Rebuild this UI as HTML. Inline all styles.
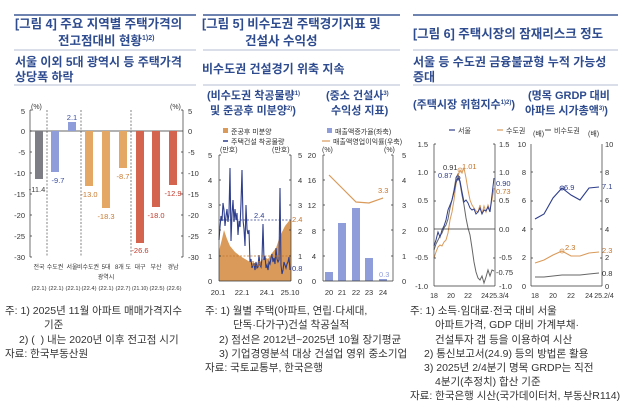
<!DOCTYPE html>
<html><head><meta charset="utf-8"><style>
html,body{margin:0;padding:0;background:#fff}
svg{display:block}
text{font-family:"Liberation Sans","Noto Sans CJK KR",sans-serif}
.t{fill:#2d4b8e;font-size:12.5px;font-weight:bold}
.s{fill:#2d4b8e;font-size:12px;font-weight:bold}
.n{fill:#333;font-size:10.5px}
.k{fill:#333;font-size:7px}
.ct{fill:#2d4b8e;font-size:11px;font-weight:bold}
</style></head><body>
<svg width="640" height="417" viewBox="0 0 640 417" xmlns="http://www.w3.org/2000/svg">
<g stroke="#3e5a95">
<line x1="14" y1="15" x2="196" y2="15" stroke-width="1.5"/>
<line x1="203" y1="15" x2="400" y2="15" stroke-width="1.5"/>
<line x1="413" y1="15" x2="618" y2="15" stroke-width="1.5"/>
</g>
<g stroke="#9aa6c0" stroke-width="0.8">
<line x1="14" y1="50" x2="196" y2="50"/><line x1="14" y1="85" x2="196" y2="85"/>
<line x1="203" y1="50" x2="400" y2="50"/><line x1="203" y1="85" x2="400" y2="85"/>
<line x1="413" y1="50" x2="618" y2="50"/><line x1="413" y1="85" x2="618" y2="85"/>
</g>
<text class="t" x="15" y="28">[그림 4] 주요 지역별 주택가격의</text>
<text class="t" x="58" y="45">전고점대비 현황<tspan font-size="7" dy="-5">1)2)</tspan></text>
<text class="s" x="15" y="66">서울 이외 5대 광역시 등 주택가격</text>
<text class="s" x="15" y="81">상당폭 하락</text>
<text class="t" x="202" y="28">[그림 5] 비수도권 주택경기지표 및</text>
<text class="t" x="245" y="45">건설사 수익성</text>
<text class="s" x="202" y="73">비수도권 건설경기 위축 지속</text>
<text class="t" x="413" y="38">[그림 6] 주택시장의 잠재리스크 정도</text>
<text class="s" x="413" y="66">서울 등 수도권 금융불균형 누적 가능성</text>
<text class="s" x="413" y="81">증대</text>

<!-- Chart 1 -->
<g font-size="7.5" fill="#333" text-anchor="end">
<text x="25" y="114">5</text><text x="25" y="134">0</text><text x="25" y="155">-5</text><text x="25" y="176">-10</text><text x="25" y="197">-15</text><text x="25" y="218">-20</text><text x="25" y="239">-25</text><text x="25" y="260">-30</text>
</g>
<g font-size="7.5" fill="#333">
<text x="188" y="114">5</text><text x="188" y="134">0</text><text x="188" y="155">-5</text><text x="188" y="176">-10</text><text x="188" y="197">-15</text><text x="188" y="218">-20</text><text x="188" y="239">-25</text><text x="188" y="260">-30</text>
</g>
<text class="k" x="31" y="109">(%)</text><text class="k" x="170" y="109">(%)</text>
<g stroke="#333" stroke-width="0.7">
<line x1="30" y1="110" x2="30" y2="257"/><line x1="183" y1="110" x2="183" y2="257"/>
<line x1="30" y1="131" x2="183" y2="131"/>
<path d="M30 110h2M30 131h2M30 152h2M30 173h2M30 194h2M30 215h2M30 236h2M30 257h2M183 110h-2M183 152h-2M183 173h-2M183 194h-2M183 215h-2M183 236h-2M183 257h-2"/>
</g>
<g stroke="#333" stroke-width="0.6" stroke-dasharray="2,1.5">
<line x1="47" y1="110" x2="47" y2="257"/><line x1="81" y1="110" x2="81" y2="257"/><line x1="131" y1="110" x2="131" y2="257"/>
</g>
<rect x="35" y="131" width="8" height="48" fill="#7d7d86"/>
<rect x="51" y="131" width="8" height="41" fill="#8f9edb"/>
<rect x="68" y="122" width="8" height="9" fill="#8f9edb"/>
<rect x="85" y="131" width="8" height="55" fill="#e4a764"/>
<rect x="102" y="131" width="8" height="77" fill="#e4a764"/>
<rect x="119" y="131" width="8" height="37" fill="#e4a764"/>
<rect x="136" y="131" width="8" height="112" fill="#d5644f"/>
<rect x="152" y="131" width="8" height="76" fill="#d5644f"/>
<rect x="169" y="131" width="8" height="54" fill="#d5644f"/>
<g font-size="7.5" text-anchor="middle">
<text x="37" y="192" fill="#444">-11.4</text><text x="58" y="183" fill="#3a4ea0">-9.7</text><text x="72" y="120" fill="#3a4ea0">2.1</text>
<text x="89" y="197" fill="#c87a30">-13.0</text><text x="106" y="219" fill="#c87a30">-18.3</text><text x="123" y="179" fill="#c87a30">-8.7</text>
<text x="140" y="253" fill="#c0392b">-26.6</text><text x="156" y="218" fill="#c0392b">-18.0</text><text x="173" y="196" fill="#c0392b">-12.9</text>
</g>
<g font-size="6" fill="#333" text-anchor="middle">
<text x="39" y="269">전국</text><text x="55" y="269">수도권</text><text x="72" y="269">서울</text><text x="88" y="269">비수도권</text><text x="106" y="269">5대</text><text x="123" y="269">8개 도</text><text x="140" y="269">대구</text><text x="156" y="269">부산</text><text x="173" y="269">경남</text>
<text x="106" y="279">광역시</text>
</g>
<g font-size="5.6" fill="#333" text-anchor="middle">
<text x="39" y="290" textLength="15" lengthAdjust="spacingAndGlyphs">(22.1)</text><text x="56" y="290" textLength="15" lengthAdjust="spacingAndGlyphs">(22.1)</text><text x="73" y="290" textLength="15" lengthAdjust="spacingAndGlyphs">(22.1)</text><text x="89" y="290" textLength="15" lengthAdjust="spacingAndGlyphs">(22.4)</text><text x="106" y="290" textLength="15" lengthAdjust="spacingAndGlyphs">(22.1)</text><text x="123" y="290" textLength="15" lengthAdjust="spacingAndGlyphs">(22.7)</text><text x="140" y="290" textLength="16" lengthAdjust="spacingAndGlyphs">(21.10)</text><text x="157" y="290" textLength="15" lengthAdjust="spacingAndGlyphs">(22.5)</text><text x="174" y="290" textLength="15" lengthAdjust="spacingAndGlyphs">(22.6)</text>
</g>

<!-- Chart 2a -->
<text class="ct" x="207" y="99">(비수도권 착공물량<tspan font-size="6" dy="-4">1)</tspan></text>
<text class="ct" x="210" y="114">및 준공후 미분양<tspan font-size="6" dy="-4">2)</tspan><tspan dy="4">)</tspan></text>
<text class="ct" x="326" y="99">(중소 건설사<tspan font-size="6" dy="-4">3)</tspan></text>
<text class="ct" x="331" y="114">수익성 지표)</text>
<rect x="223" y="128" width="5" height="5" fill="#d99a5a"/><text class="k" x="231" y="134">준공후 미분양</text>
<line x1="223" y1="141" x2="228" y2="141" stroke="#2e3e8c" stroke-width="1.5"/><text class="k" x="231" y="144">주택건설 착공물량</text>
<text class="k" x="220" y="152">(만호)</text><text class="k" x="272" y="152">(만호)</text>
<g font-size="7.5" fill="#333">
<text x="208" y="158">5</text><text x="208" y="183">4</text><text x="208" y="208">3</text><text x="208" y="234">2</text><text x="208" y="259">1</text><text x="208" y="284">0</text>
<text x="298" y="158">5</text><text x="298" y="183">4</text><text x="298" y="208">3</text><text x="298" y="234">2</text><text x="298" y="259">1</text><text x="298" y="284">0</text>
</g>
<path d="M219 251 L222 239 L224 230 L227 239 L230 246 L235 252 L240 256 L245 259 L250 262 L255 263 L260 264 L264 257 L268 259 L272 253 L276 248 L280 236 L285 226 L289 221 L291 220 L291 281 L219 281Z" fill="#d99a5a"/>
<polyline fill="none" stroke="#2e3e8c" stroke-width="1.1" points="219,240 220,227 221,216 222,221 223,203 224,210 225,226 226,216 227,209 228,222 229,213 230,168 231,241 232,214 233,200 234,222 235,209 236,220 237,213 238,235 239,221 240,227 241,203 242,170 243,220 244,229 245,246 246,205 247,229 248,234 249,230 250,262 251,259 252,268 253,265 254,264 255,270 256,262 257,268 258,267 259,255 260,265 261,267 262,258 263,224 264,260 265,256 266,268 267,265 268,270 269,262 270,264 271,258 272,254 273,262 274,258 275,264 276,248 277,259 278,262 279,260 280,188 281,265 282,274 283,270 284,262 285,265 286,268 287,264 288,262 289,257 290,270"/>
<g stroke-width="0.8" stroke-dasharray="2,1.5">
<line x1="219" y1="220" x2="291" y2="220" stroke="#2e3e8c"/>
<line x1="219" y1="256" x2="291" y2="256" stroke="#c2742a"/>
</g>
<text x="254" y="218" font-size="7.5" fill="#2e3e8c">2.4</text>
<text x="251" y="266" font-size="7.5" fill="#c2742a">1.0</text>
<text x="292" y="222" font-size="7.5" fill="#c2742a">2.4</text>
<text x="292" y="271" font-size="7.5" fill="#2e3e8c">0.8</text>
<g stroke="#333" stroke-width="0.7">
<line x1="219" y1="155" x2="219" y2="281"/><line x1="291" y1="155" x2="291" y2="281"/><line x1="219" y1="281" x2="291" y2="281"/>
<path d="M219 155h2M219 180h2M219 205h2M219 230h2M219 256h2M291 155h-2M291 180h-2M291 205h-2M291 230h-2M291 256h-2"/>
</g>
<g font-size="7.5" fill="#333" text-anchor="middle">
<text x="218" y="295">20.1</text><text x="242" y="295">22.1</text><text x="267" y="295">24.1</text><text x="290" y="295">25.10</text>
</g>

<!-- Chart 2b -->
<rect x="327" y="128" width="5" height="5" fill="#8f9edb"/><text class="k" x="335" y="134">매출액증가율(좌축)</text>
<line x1="322" y1="141" x2="330" y2="141" stroke="#d99a5a" stroke-width="1.2"/><text class="k" x="333" y="144">매출액영업이익률(우축)</text>
<text class="k" x="322" y="152">(%)</text><text class="k" x="384" y="152">(%)</text>
<g font-size="7.5" fill="#333" text-anchor="end">
<text x="316" y="158">20</text><text x="316" y="183">16</text><text x="316" y="208">12</text><text x="316" y="234">8</text><text x="316" y="259">4</text><text x="316" y="284">0</text>
</g>
<g font-size="7.5" fill="#333">
<text x="402" y="158">5</text><text x="402" y="183">4</text><text x="402" y="208">3</text><text x="402" y="234">2</text><text x="402" y="259">1</text><text x="402" y="284">0</text>
</g>
<rect x="325" y="272" width="8" height="9" fill="#8f9edb"/>
<rect x="338" y="223" width="8" height="58" fill="#8f9edb"/>
<rect x="352" y="208" width="8" height="73" fill="#8f9edb"/>
<rect x="365" y="258" width="8" height="23" fill="#8f9edb"/>
<rect x="379" y="279" width="8" height="2" fill="#8f9edb"/>
<polyline fill="none" stroke="#d99a5a" stroke-width="1.2" points="329,175 342,188 356,202 369,203 383,198"/>
<text x="378" y="193" font-size="7.5" fill="#c2742a">3.3</text>
<text x="379" y="277" font-size="7.5" fill="#8f9edb">0.3</text>
<g stroke="#333" stroke-width="0.7">
<line x1="323" y1="155" x2="323" y2="281"/><line x1="393" y1="155" x2="393" y2="281"/><line x1="323" y1="281" x2="393" y2="281"/>
<path d="M323 155h2M323 180h2M323 205h2M323 230h2M323 256h2M393 155h-2M393 180h-2M393 205h-2M393 230h-2M393 256h-2"/>
</g>
<g font-size="7.5" fill="#333" text-anchor="middle">
<text x="329" y="295">20</text><text x="342" y="295">21</text><text x="356" y="295">22</text><text x="369" y="295">23</text><text x="383" y="295">24</text>
</g>

<!-- Chart 3 titles -->
<text class="ct" x="413" y="108">(주택시장 위험지수<tspan font-size="6" dy="-4">1)2)</tspan><tspan dy="4">)</tspan></text>
<text class="ct" x="528" y="99">(명목 GRDP 대비</text>
<text class="ct" x="525" y="114">아파트 시가총액<tspan font-size="6" dy="-4">3)</tspan><tspan dy="4">)</tspan></text>
<line x1="449" y1="130" x2="455" y2="130" stroke="#2e3e8c" stroke-width="1.2"/><text class="k" x="458" y="133">서울</text>
<line x1="497" y1="130" x2="503" y2="130" stroke="#d99a5a" stroke-width="1.2"/><text class="k" x="506" y="133">수도권</text>
<line x1="545" y1="130" x2="551" y2="130" stroke="#666" stroke-width="1.2"/><text class="k" x="554" y="133">비수도권</text>

<!-- Chart 3a -->
<g font-size="7.5" fill="#333" text-anchor="end">
<text x="428" y="147">1.5</text><text x="428" y="175">1.0</text><text x="428" y="203">0.5</text><text x="428" y="232">0.0</text><text x="428" y="260">-0.5</text><text x="428" y="289">-1.0</text>
</g>
<g font-size="7.5" fill="#333">
<text x="499" y="147">1.5</text><text x="499" y="175">1.0</text><text x="499" y="203">0.5</text><text x="499" y="232">0.0</text><text x="499" y="260">-0.5</text><text x="499" y="289">-1.0</text>
</g>
<polyline fill="none" stroke="#666" stroke-width="1" points="434,250 436,244 438,240 440,236 442,233 444,228 446,225 448,219 450,208 452,200 454,190 456,178 458,174 460,183 462,195 464,205 466,218 468,228 470,235 472,248 474,262 476,272 478,278 480,280 482,276 484,283 486,277 488,270 490,276 492,270 494,271"/>
<polyline fill="none" stroke="#d99a5a" stroke-width="1" points="434,258 436,252 438,247 440,245 442,246 444,242 446,240 448,233 450,220 452,212 454,200 456,184 458,176 460,170 462,173 464,168 466,178 468,190 470,200 472,205 474,208 476,211 478,212 480,205 482,214 484,206 486,212 488,205 490,210 492,200 494,188"/>
<polyline fill="none" stroke="#2e3e8c" stroke-width="1" points="434,246 436,240 438,232 440,237 442,230 444,226 446,220 448,210 450,205 452,200 454,192 456,182 458,178 460,181 462,192 464,202 466,200 468,203 470,208 472,210 474,209 476,214 478,212 480,208 482,214 484,210 486,211 488,207 490,212 492,195 494,178"/>
<circle cx="458" cy="178" r="2" fill="none" stroke="#2e3e8c" stroke-width="0.8"/>
<circle cx="460" cy="170" r="2" fill="none" stroke="#d99a5a" stroke-width="0.8"/>
<text x="443" y="170" font-size="7.5" fill="#333">0.91</text><text x="462" y="169" font-size="7.5" fill="#c2742a">1.01</text>
<text x="438" y="178" font-size="7.5" fill="#2e3e8c">0.87</text>
<text x="496" y="186" font-size="7.5" fill="#2e3e8c">0.90</text><text x="496" y="194" font-size="7.5" fill="#c2742a">0.73</text>
<text x="496" y="275" font-size="7.5" fill="#333">-0.75</text>
<g stroke="#333" stroke-width="0.7">
<line x1="434" y1="144" x2="434" y2="286"/><line x1="495" y1="144" x2="495" y2="286"/><line x1="434" y1="286" x2="495" y2="286"/>
<line x1="434" y1="229" x2="495" y2="229"/>
<path d="M434 144h2M434 172h2M434 201h2M434 258h2M495 144h-2M495 172h-2M495 201h-2M495 258h-2"/>
</g>
<g font-size="7" fill="#333" text-anchor="middle">
<text x="434" y="298">18</text><text x="451" y="298">20</text><text x="468" y="298">22</text><text x="485" y="298">24</text><text x="499" y="298">25.3/4</text>
</g>

<!-- Chart 3b -->
<g font-size="7.5" fill="#333" text-anchor="end">
<text x="526" y="147">10</text><text x="526" y="175">8</text><text x="526" y="203">6</text><text x="526" y="232">4</text><text x="526" y="260">2</text><text x="526" y="289">0</text>
</g>
<g font-size="7.5" fill="#333">
<text x="605" y="147">10</text><text x="605" y="175">8</text><text x="605" y="203">6</text><text x="605" y="232">4</text><text x="605" y="260">2</text><text x="605" y="289">0</text>
</g>
<text class="k" x="533" y="136">(배)</text><text class="k" x="588" y="136">(배)</text>
<polyline fill="none" stroke="#2e3e8c" stroke-width="1.1" points="535,219 544,214 553,198 562,188 571,195 580,200 589,188 599,187"/>
<polyline fill="none" stroke="#d99a5a" stroke-width="1.1" points="535,263 544,260 553,255 562,251 571,256 580,256 589,253 599,252"/>
<polyline fill="none" stroke="#666" stroke-width="1.1" points="535,277 544,277 553,276 562,275 571,275 580,275 589,274 599,273"/>
<circle cx="562" cy="188" r="2" fill="none" stroke="#2e3e8c" stroke-width="0.8"/>
<circle cx="562" cy="251" r="2" fill="none" stroke="#d99a5a" stroke-width="0.8"/>
<text x="564" y="190" font-size="7.5" fill="#2e3e8c">6.9</text><text x="565" y="250" font-size="7.5" fill="#c2742a">2.3</text>
<text x="602" y="189" font-size="7.5" fill="#2e3e8c">7.1</text><text x="602" y="253" font-size="7.5" fill="#c2742a">2.3</text><text x="602" y="276" font-size="7.5" fill="#333">0.8</text>
<g stroke="#333" stroke-width="0.7">
<line x1="531" y1="144" x2="531" y2="286"/><line x1="602" y1="144" x2="602" y2="286"/><line x1="531" y1="286" x2="602" y2="286"/>
<path d="M531 172h2M531 201h2M531 229h2M531 258h2M602 172h-2M602 201h-2M602 229h-2M602 258h-2"/>
</g>
<g font-size="7" fill="#333" text-anchor="middle">
<text x="535" y="298">18</text><text x="553" y="298">20</text><text x="571" y="298">22</text><text x="589" y="298">24</text><text x="604" y="298">25.2/4</text>
</g>

<!-- notes -->
<text class="n" x="5" y="314">주: 1) 2025년 11월 아파트 매매가격지수</text>
<text class="n" x="44" y="328">기준</text>
<text class="n" x="19" y="343">2) (&#160;&#160;) 내는 2020년 이후 전고점 시기</text>
<text class="n" x="5" y="357">자료: 한국부동산원</text>

<text class="n" x="205" y="314">주: 1) 월별 주택(아파트, 연립·다세대,</text>
<text class="n" x="233" y="328">단독·다가구)건설 착공실적</text>
<text class="n" x="219" y="343">2) 점선은 2012년~2025년 10월 장기평균</text>
<text class="n" x="219" y="357">3) 기업경영분석 대상 건설업 영위 중소기업</text>
<text class="n" x="205" y="371">자료: 국토교통부, 한국은행</text>

<text class="n" x="410" y="314">주: 1) 소득·임대료·전국 대비 서울</text>
<text class="n" x="435" y="328">아파트가격, GDP 대비 가계부채·</text>
<text class="n" x="435" y="343">건설투자 갭 등을 이용하여 시산</text>
<text class="n" x="424" y="357">2) 통신보고서(24.9) 등의 방법론 활용</text>
<text class="n" x="424" y="371">3) 2025년 2/4분기 명목 GRDP는 직전</text>
<text class="n" x="435" y="385">4분기(추정치) 합산 기준</text>
<text class="n" x="410" y="399">자료: 한국은행 시산(국가데이터처, 부동산R114)</text>
</svg>
</body></html>
